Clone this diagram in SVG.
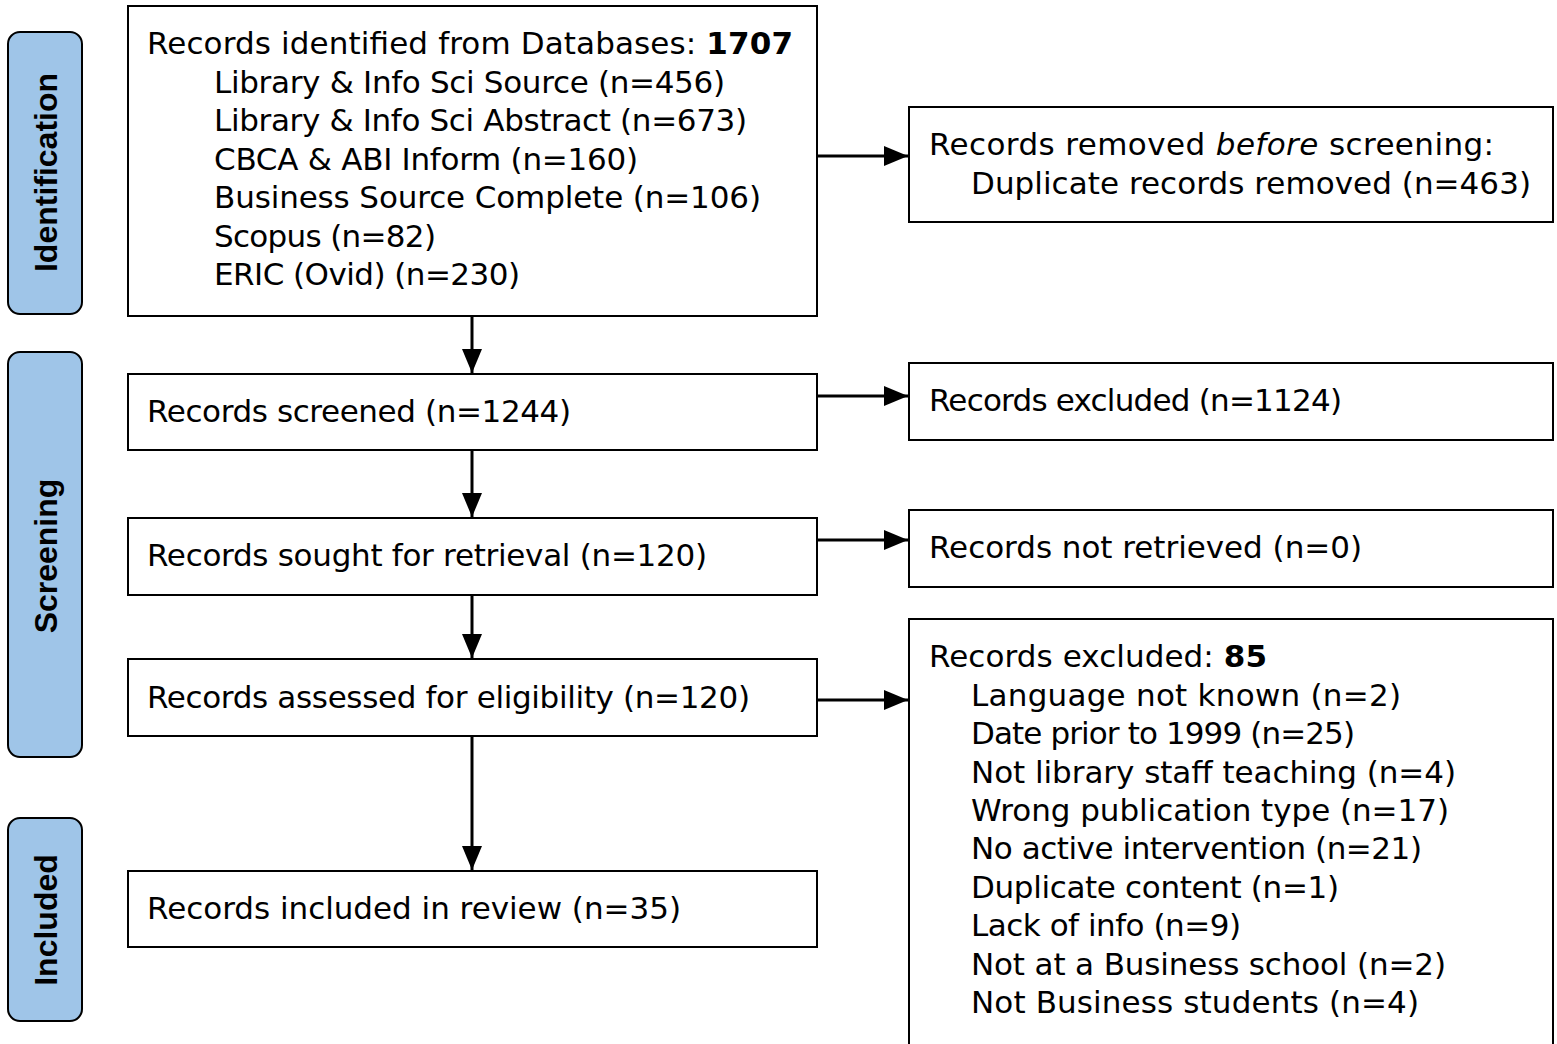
<svg xmlns="http://www.w3.org/2000/svg" width="1557" height="1044" viewBox="0 0 1557 1044">
<style>
.box{fill:#fff;stroke:#000;stroke-width:2}
.side{fill:#9fc5e8;stroke:#000;stroke-width:2}
.t{font-family:"DejaVu Sans","Liberation Sans",sans-serif;font-size:31px;fill:#000}
.s{font-family:"Liberation Sans",Arial,sans-serif;font-size:32px;font-weight:bold;fill:#000;text-anchor:middle}
.c{stroke:#000;stroke-width:3;fill:none;marker-end:url(#ah)}
</style>
<defs>
<marker id="ah" markerUnits="userSpaceOnUse" markerWidth="26" markerHeight="22" refX="24" refY="10" orient="auto">
<path d="M0,0 L24,10 L0,20 Z" fill="#000"/>
</marker>
</defs>
<rect width="1557" height="1044" fill="#fff"/>
<g id="side-identification"><rect class="side" x="8" y="32" width="74" height="282" rx="12"/><text class="s" transform="translate(57,172.5) rotate(-90)">Identification</text></g>
<g id="side-screening"><rect class="side" x="8" y="352" width="74" height="405" rx="12"/><text class="s" transform="translate(57,556) rotate(-90)">Screening</text></g>
<g id="side-included"><rect class="side" x="8" y="818" width="74" height="203" rx="12"/><text class="s" transform="translate(57,920) rotate(-90)">Included</text></g>
<g id="connectors">
<line class="c" x1="472" y1="316" x2="472" y2="373"/>
<line class="c" x1="472" y1="450" x2="472" y2="517"/>
<line class="c" x1="472" y1="595" x2="472" y2="658"/>
<line class="c" x1="472" y1="736" x2="472" y2="870"/>
<line class="c" x1="817" y1="156" x2="908" y2="156"/>
<line class="c" x1="817" y1="396" x2="908" y2="396"/>
<line class="c" x1="817" y1="540" x2="908" y2="540"/>
<line class="c" x1="817" y1="700" x2="908" y2="700"/>
</g>
<g id="identified">
<rect class="box" x="128" y="6" width="689" height="310"/>
<text class="t" x="147" y="54" textLength="646">Records identified from Databases: <tspan font-weight="bold">1707</tspan></text>
<text class="t" x="214" y="92.5" textLength="511">Library &amp; Info Sci Source (n=456)</text>
<text class="t" x="214" y="131" textLength="533">Library &amp; Info Sci Abstract (n=673)</text>
<text class="t" x="214" y="169.5" textLength="424">CBCA &amp; ABI Inform (n=160)</text>
<text class="t" x="214" y="208" textLength="547">Business Source Complete (n=106)</text>
<text class="t" x="214" y="246.5" textLength="222">Scopus (n=82)</text>
<text class="t" x="214" y="285" textLength="306">ERIC (Ovid) (n=230)</text>
</g>
<g id="removed">
<rect class="box" x="909" y="107" width="644" height="115"/>
<text class="t" x="929" y="155" textLength="565">Records removed <tspan font-style="italic">before</tspan> screening:</text>
<text class="t" x="971" y="194" textLength="560">Duplicate records removed (n=463)</text>
</g>
<g id="screened">
<rect class="box" x="128" y="374" width="689" height="76"/>
<text class="t" x="147" y="422" textLength="424">Records screened (n=1244)</text>
</g>
<g id="excluded1">
<rect class="box" x="909" y="363" width="644" height="77"/>
<text class="t" x="929" y="411" textLength="413">Records excluded (n=1124)</text>
</g>
<g id="sought">
<rect class="box" x="128" y="518" width="689" height="77"/>
<text class="t" x="147" y="566" textLength="560">Records sought for retrieval (n=120)</text>
</g>
<g id="notretrieved">
<rect class="box" x="909" y="510" width="644" height="77"/>
<text class="t" x="929" y="558" textLength="433">Records not retrieved (n=0)</text>
</g>
<g id="assessed">
<rect class="box" x="128" y="659" width="689" height="77"/>
<text class="t" x="147" y="708" textLength="603">Records assessed for eligibility (n=120)</text>
</g>
<g id="included">
<rect class="box" x="128" y="871" width="689" height="76"/>
<text class="t" x="147" y="919" textLength="534">Records included in review (n=35)</text>
</g>
<g id="excluded2">
<rect class="box" x="909" y="619" width="644" height="440"/>
<text class="t" x="929" y="667" textLength="338">Records excluded: <tspan font-weight="bold">85</tspan></text>
<text class="t" x="971" y="706" textLength="430">Language not known (n=2)</text>
<text class="t" x="971" y="744" textLength="384">Date prior to 1999 (n=25)</text>
<text class="t" x="971" y="783" textLength="485">Not library staff teaching (n=4)</text>
<text class="t" x="971" y="821" textLength="478">Wrong publication type (n=17)</text>
<text class="t" x="971" y="859" textLength="451">No active intervention (n=21)</text>
<text class="t" x="971" y="898" textLength="368">Duplicate content (n=1)</text>
<text class="t" x="971" y="936" textLength="270">Lack of info (n=9)</text>
<text class="t" x="971" y="975" textLength="475">Not at a Business school (n=2)</text>
<text class="t" x="971" y="1013" textLength="448">Not Business students (n=4)</text>
</g>
</svg>
